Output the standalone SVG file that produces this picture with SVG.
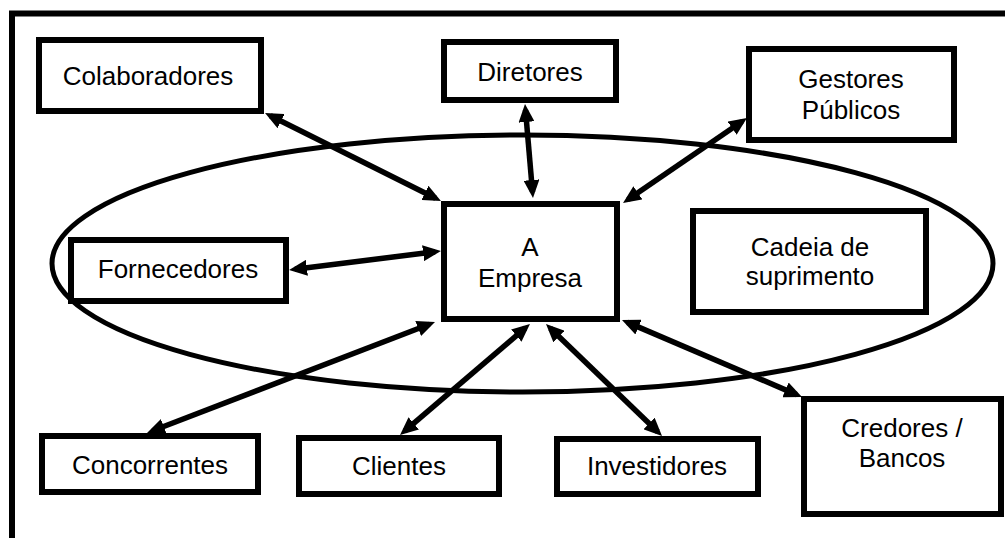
<svg xmlns="http://www.w3.org/2000/svg" width="1005" height="538" viewBox="0 0 1005 538">
  <style>
    .box { fill: #ffffff; stroke: #000000; stroke-width: 6; }
    .lbl { font-family: "Liberation Sans", Arial, sans-serif; font-size: 26px; fill: #000000; text-anchor: middle; }
    .link { stroke: #000000; stroke-width: 5.5; fill: none; marker-start: url(#head); marker-end: url(#head); }
  </style>
  <defs>
    <marker id="head" markerUnits="userSpaceOnUse" viewBox="0 0 18 16" markerWidth="18" markerHeight="16" refX="12" refY="8" orient="auto-start-reverse">
      <path d="M0,0 L18,8 L0,16 Z" fill="#000000"/>
    </marker>
  </defs>

  <rect width="1005" height="538" fill="#ffffff"/>
  <!-- outer frame, open to the right and bottom -->
  <rect x="12" y="13.5" width="1010" height="540" fill="none" stroke="#000000" stroke-width="6"/>

  <!-- supply chain boundary -->
  <ellipse id="boundary" cx="522.5" cy="263.5" rx="470.5" ry="128.5" fill="none" stroke="#000000" stroke-width="5"/>

  <g id="colaboradores">
    <rect class="box" x="39" y="40" width="222" height="71"/>
    <text class="lbl" x="148" y="85">Colaboradores</text>
  </g>
  <g id="diretores">
    <rect class="box" x="444" y="42" width="172" height="58"/>
    <text class="lbl" x="530" y="81">Diretores</text>
  </g>
  <g id="gestores">
    <rect class="box" x="749" y="49" width="205" height="91"/>
    <text class="lbl" x="851" y="88">Gestores</text>
    <text class="lbl" x="851" y="119">Públicos</text>
  </g>
  <g id="empresa">
    <rect class="box" x="444" y="204" width="173" height="115"/>
    <text class="lbl" x="530" y="256">A</text>
    <text class="lbl" x="530" y="287">Empresa</text>
  </g>
  <g id="cadeia">
    <rect class="box" x="693" y="211" width="233" height="101"/>
    <text class="lbl" x="810" y="256">Cadeia de</text>
    <text class="lbl" x="810" y="285">suprimento</text>
  </g>
  <g id="fornecedores">
    <rect class="box" x="71" y="240" width="215" height="61"/>
    <text class="lbl" x="178" y="278">Fornecedores</text>
  </g>
  <g id="concorrentes">
    <rect class="box" x="42" y="436" width="216" height="56"/>
    <text class="lbl" x="150" y="474">Concorrentes</text>
  </g>
  <g id="clientes">
    <rect class="box" x="299" y="438" width="200" height="56"/>
    <text class="lbl" x="399" y="475">Clientes</text>
  </g>
  <g id="investidores">
    <rect class="box" x="557" y="439" width="201" height="55"/>
    <text class="lbl" x="657" y="475">Investidores</text>
  </g>
  <g id="credores">
    <rect class="box" x="804" y="399" width="197" height="115"/>
    <text class="lbl" x="902" y="437">Credores /</text>
    <text class="lbl" x="902" y="467">Bancos</text>
  </g>

  <g id="connectors">
    <line class="link" x1="270.4" y1="115.7" x2="435.6" y2="198.3"/>
    <line class="link" x1="525.5" y1="110" x2="532.5" y2="192"/>
    <line class="link" x1="742" y1="121.4" x2="628" y2="199.6"/>
    <line class="link" x1="295" y1="269.3" x2="435" y2="251.7"/>
    <line class="link" x1="152.6" y1="430.8" x2="429.4" y2="324.2"/>
    <line class="link" x1="404.6" y1="431.1" x2="525.4" y2="327.9"/>
    <line class="link" x1="550.3" y1="328.2" x2="657.7" y2="431.8"/>
    <line class="link" x1="627.5" y1="322.4" x2="796.5" y2="394.6"/>
  </g>
</svg>
